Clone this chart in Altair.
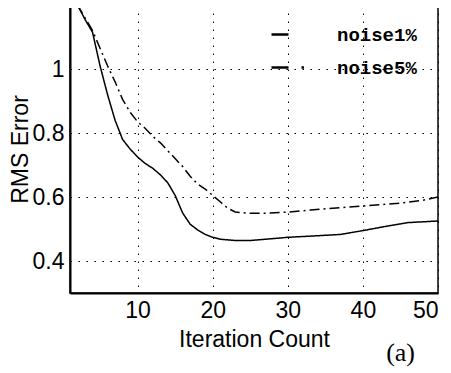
import altair as alt
import pandas as pd

# noise1% (solid)
x1 = [2, 3, 4, 5, 6, 7, 8, 9, 10, 11, 12, 13, 14, 15, 16, 17, 18, 19, 20, 21, 23, 25, 27, 30, 34, 37, 40, 43, 46, 50]
y1 = [1.20, 1.155, 1.115, 1.01, 0.92, 0.84, 0.78, 0.75, 0.725, 0.705, 0.69, 0.67, 0.645, 0.605, 0.55, 0.515, 0.497, 0.483, 0.474, 0.468, 0.464, 0.464, 0.468, 0.474, 0.479, 0.483, 0.495, 0.508, 0.52, 0.525]

# noise5% (dash-dot)
x2 = [2, 3, 4, 5, 6, 7, 8, 9, 10, 11, 12, 13, 14, 15, 16, 17, 18, 19, 20, 21, 22, 23, 25, 27, 30, 33, 36, 40, 45, 48, 50]
y2 = [1.20, 1.16, 1.12, 1.065, 1.01, 0.96, 0.905, 0.865, 0.835, 0.815, 0.79, 0.77, 0.745, 0.72, 0.695, 0.665, 0.64, 0.625, 0.605, 0.585, 0.565, 0.553, 0.549, 0.549, 0.553, 0.559, 0.565, 0.572, 0.581, 0.59, 0.60]

series = ["noise1%", "noise5%"]
x_ticks = [10, 20, 30, 40, 50]
y_ticks = [0.4, 0.6, 0.8, 1.0]

df = pd.concat([
    pd.DataFrame({"x": x1, "y": y1, "s": series[0]}),
    pd.DataFrame({"x": x2, "y": y2, "s": series[1]}),
])

xenc = alt.X("x:Q", scale=alt.Scale(domain=[1, 50], nice=False, zero=False),
             axis=alt.Axis(values=x_ticks, title="Iteration Count", format="d", titlePadding=6))
yenc = alt.Y("y:Q", scale=alt.Scale(domain=[0.3, 1.2], nice=False, zero=False),
             axis=alt.Axis(values=y_ticks, title="RMS Error", titlePadding=0,
                           labelExpr="datum.value == 1 ? '1' : format(datum.value, '.1f')"))

lines = alt.Chart(df).mark_line(color="black", strokeWidth=1.5, clip=True).encode(
    x=xenc, y=yenc,
    strokeDash=alt.StrokeDash("s:N", scale=alt.Scale(domain=series, range=[[1, 0], [10, 4, 2, 4]]),
                              legend=None),
)

# empty layer that only supplies the legend (short dash / dash + dot symbols)
legend_layer = alt.Chart(df).transform_filter("false").mark_line(color="black", strokeWidth=2.5).encode(
    x=xenc, y=yenc,
    strokeDash=alt.StrokeDash("s:N", scale=alt.Scale(domain=series, range=[[17, 100], [17, 13, 2.5, 100]]),
                              legend=alt.Legend(title=None, orient="none", legendX=200, legendY=11,
                                                symbolType="stroke", symbolSize=1156,
                                                symbolStrokeColor="black", symbolStrokeWidth=2.5,
                                                labelFont="Liberation Mono", labelFontSize=19,
                                                labelFontWeight="bold",
                                                labelColor="black", labelOffset=30, rowPadding=4,
                                                padding=0)),
)

chart = alt.layer(lines, legend_layer).resolve_scale(strokeDash="independent").properties(
    width=368, height=288,
    background="white",
    autosize=alt.AutoSizeParams(type="none"),
    padding={"left": 62, "top": -3, "right": 5, "bottom": 80},
    title=alt.TitleParams("(a)", orient="bottom", anchor="end", font="Liberation Serif",
                          fontSize=26, fontWeight="normal", color="black", dx=-23, offset=-11),
).configure_view(
    stroke="black", strokeWidth=1.5
).configure_axis(
    labelFont="Liberation Sans", labelFontSize=23, labelColor="black",
    titleFont="Liberation Sans", titleFontSize=23, titleColor="black", titleFontWeight="normal",
    grid=True, gridColor="black", gridDash=[1.5, 6.5], gridWidth=1, gridOpacity=1,
    ticks=False, domainColor="black", domainWidth=2, labelPadding=6,
)

chart.save("out.html", embed_options={"renderer": "svg", "actions": False})
